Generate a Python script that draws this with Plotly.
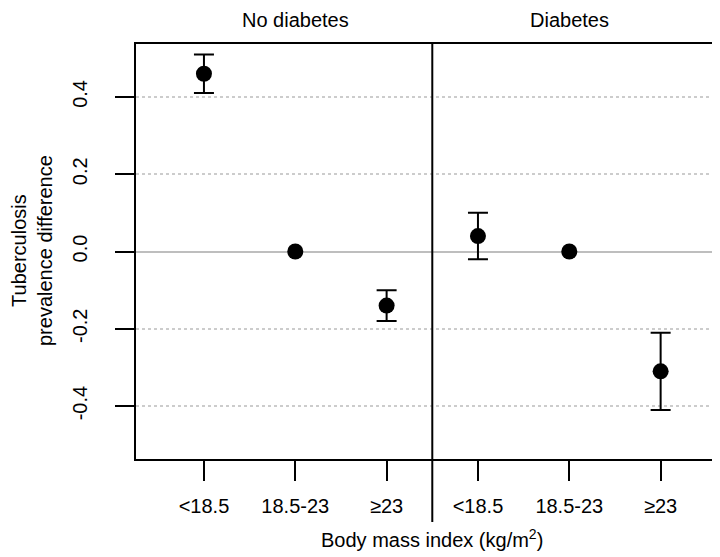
import plotly.graph_objects as go

# Data
categories = ["<18.5", "18.5-23", "≥23"]
panels = ["No diabetes", "Diabetes"]
est_no = [0.46, 0.0, -0.14]
lo_no = [0.41, None, -0.18]
hi_no = [0.51, None, -0.10]
est_dm = [0.04, 0.0, -0.31]
lo_dm = [-0.02, None, -0.41]
hi_dm = [0.10, None, -0.21]
ytick_vals = [-0.4, -0.2, 0.0, 0.2, 0.4]
ytick_text = ["-0.4", "-0.2", "0.0", "0.2", "0.4"]

FONT = "Liberation Sans, Arial, sans-serif"
FS = 20
OFF = 8  # page body margin
W, H = 720 - OFF, 557 - OFF
L, R, T, B = 136 - OFF, 0, 44 - OFF, 557 - 459
plot_h = H - T - B
plot_w = W - L - R

def py(screen_y):
    # screen pixel y -> paper coordinate
    return (459 - screen_y) / plot_h

xpos = list(range(1, 2 * len(categories) + 1))
est = est_no + est_dm
lo = lo_no + lo_dm
hi = hi_no + hi_dm

fig = go.Figure()

ex, ey, eplus, eminus = [], [], [], []
rx, ry = [], []
for x, e, l, h in zip(xpos, est, lo, hi):
    if l is None:
        rx.append(x); ry.append(e)
    else:
        ex.append(x); ey.append(e)
        eplus.append(h - e); eminus.append(e - l)

fig.add_trace(go.Scatter(
    x=ex, y=ey, mode="markers",
    marker=dict(color="black", size=16),
    error_y=dict(type="data", symmetric=False, array=eplus, arrayminus=eminus,
                 color="black", thickness=2, width=10),
    showlegend=False, hoverinfo="skip"))
fig.add_trace(go.Scatter(
    x=rx, y=ry, mode="markers",
    marker=dict(color="black", size=16),
    showlegend=False, hoverinfo="skip"))

mid = len(categories) + 0.5
fig.add_shape(type="line", xref="x", yref="paper", x0=mid, x1=mid,
              y0=py(522), y1=1,
              line=dict(color="black", width=2), layer="above")

for i, p in enumerate(panels):
    fig.add_annotation(text=p, x=2 + i * 3, xref="x", y=py(20), yref="paper",
                       showarrow=False, xanchor="center", yanchor="middle",
                       font=dict(family=FONT, size=FS, color="black"))

fig.add_annotation(text="Body mass index (kg/m<sup>2</sup>)", x=mid, xref="x",
                   y=py(538), yref="paper", showarrow=False,
                   xanchor="center", yanchor="middle",
                   font=dict(family=FONT, size=FS, color="black"))
fig.add_annotation(text="Tuberculosis<br>prevalence difference", textangle=-90,
                   x=(32 - 136) / plot_w, xref="paper", y=py(251), yref="paper",
                   showarrow=False, xanchor="center", yanchor="middle",
                   font=dict(family=FONT, size=FS, color="black"))

fig.update_xaxes(range=[0.256, 6.65], tickvals=xpos, ticktext=categories * 2,
                 ticks="outside", ticklen=20, tickwidth=2, tickcolor="black",
                 showline=True, linecolor="black", linewidth=2, mirror=True,
                 showgrid=False, zeroline=False, automargin=False,
                 ticklabelstandoff=8,
                 tickfont=dict(family=FONT, size=FS, color="black"))
fig.update_yaxes(range=[-0.537, 0.537], tickvals=ytick_vals, ticktext=ytick_text,
                 tickangle=-90, ticks="outside", ticklen=19, tickwidth=2, tickcolor="black",
                 showline=True, linecolor="black", linewidth=2, mirror=False,
                 showgrid=True, gridcolor="#cccccc", gridwidth=1.5, griddash="dot",
                 zeroline=True, zerolinecolor="#bebebe", zerolinewidth=2,
                 ticklabelstandoff=20, automargin=False,
                 tickfont=dict(family=FONT, size=FS, color="black"))

fig.update_layout(width=W, height=H, margin=dict(l=L, r=R, t=T, b=B, autoexpand=False),
                  plot_bgcolor="white", paper_bgcolor="white",
                  font=dict(family=FONT, color="black"))

fig.write_html("out.html")
